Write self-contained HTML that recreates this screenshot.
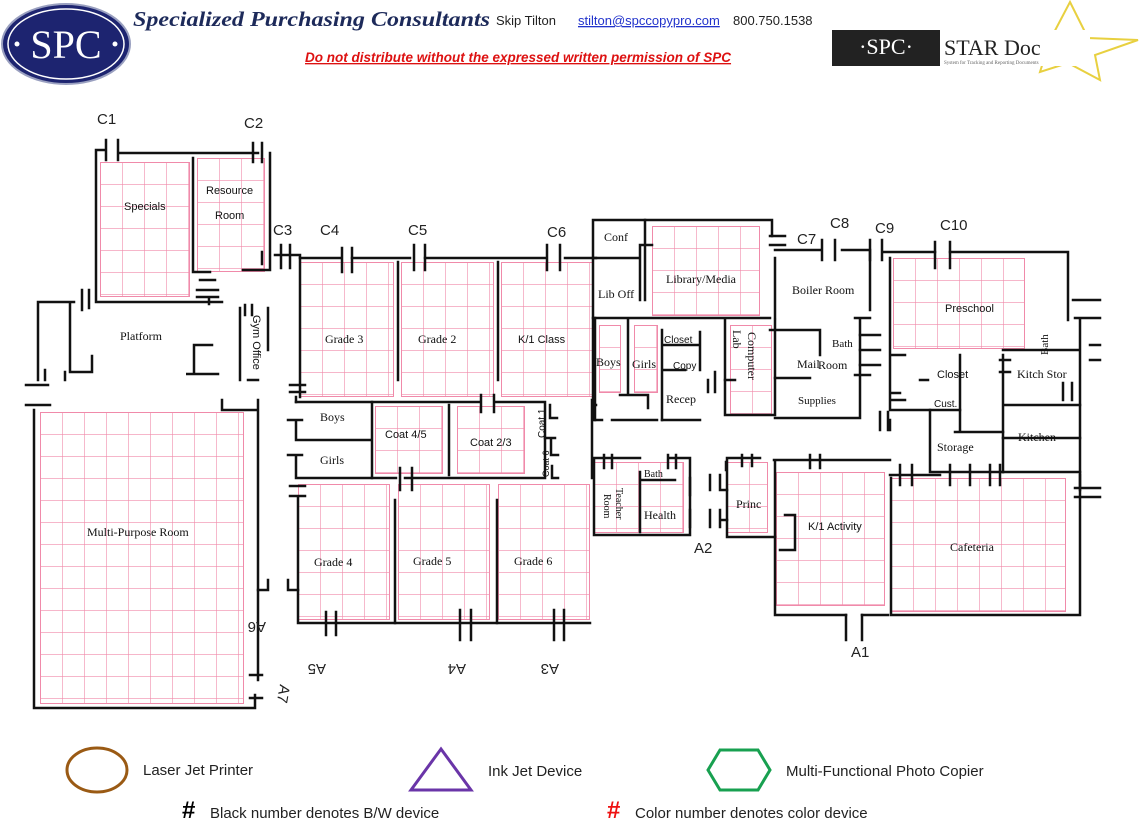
<!DOCTYPE html>
<html><head><meta charset="utf-8">
<style>
html,body{margin:0;padding:0;background:#fff;}
body{width:1140px;height:828px;overflow:hidden;position:relative;font-family:"Liberation Sans",sans-serif;}
svg{position:absolute;left:0;top:0;}
.s{font-family:"Liberation Serif",serif;font-size:12px;fill:#111;}
.h{font-family:"Liberation Sans",sans-serif;font-size:15px;fill:#222;}
</style></head><body>
<svg width="1140" height="828" viewBox="0 0 1140 828" xmlns="http://www.w3.org/2000/svg">
<defs>
<pattern id="g" width="22" height="22" patternUnits="userSpaceOnUse">
<path d="M0 0H22M0 0V22" stroke="#f08aaa" stroke-width="1.2" fill="none"/>
</pattern>
</defs>

<!-- HEADER -->
<ellipse cx="66" cy="44" rx="64" ry="40" fill="#1d2470" stroke="#9aa0c0" stroke-width="2"/>
<ellipse cx="66" cy="44" rx="58" ry="35" fill="none" stroke="#fff" stroke-width="1.5"/>
<text x="66" y="58" text-anchor="middle" font-family="Liberation Serif" font-size="40" fill="#fff">SPC</text>
<circle cx="17" cy="44" r="2.5" fill="#fff"/><circle cx="115" cy="44" r="2.5" fill="#fff"/>
<text x="133" y="26" font-family="Liberation Serif" font-style="italic" font-weight="bold" font-size="21" fill="#1d2a5a" textLength="357" lengthAdjust="spacingAndGlyphs">Specialized Purchasing Consultants</text>
<text x="496" y="25" font-size="13" fill="#222">Skip Tilton</text>
<text x="578" y="25" font-size="13" fill="#2233cc" text-decoration="underline">stilton@spccopypro.com</text>
<text x="733" y="25" font-size="13" fill="#222">800.750.1538</text>
<text x="305" y="62" font-size="13.5" font-weight="bold" font-style="italic" fill="#d11" text-decoration="underline">Do not distribute without the expressed written permission of SPC</text>
<polygon points="1070,2 1088,38 1138,40 1095,55 1100,80 1068,63 1040,72 1050,40" fill="none" stroke="#e8d040" stroke-width="2"/>
<rect x="832" y="30" width="108" height="36" fill="#222"/>
<text x="886" y="54" text-anchor="middle" font-family="Liberation Serif" font-size="22" fill="#fff">·SPC·</text>
<rect x="940" y="30" width="150" height="36" fill="#fff"/>
<text x="944" y="55" font-family="Liberation Serif" font-size="22" fill="#222">STAR Doc</text>
<text x="944" y="64" font-family="Liberation Serif" font-size="5" fill="#666">System for Tracking and Reporting Documents</text>

<!-- GRIDDED ROOMS -->
<g>
<svg x="100" y="162" width="90" height="135"><rect width="100%" height="100%" fill="url(#g)" stroke="#f08aaa" stroke-width="2"/></svg>
<svg x="197" y="158" width="68" height="114"><rect width="100%" height="100%" fill="url(#g)" stroke="#f08aaa" stroke-width="2"/></svg>
<svg x="40" y="412" width="204" height="292"><rect width="100%" height="100%" fill="url(#g)" stroke="#f08aaa" stroke-width="2"/></svg>
<svg x="300" y="262" width="94" height="135"><rect width="100%" height="100%" fill="url(#g)" stroke="#f08aaa" stroke-width="2"/></svg>
<svg x="401" y="262" width="93" height="135"><rect width="100%" height="100%" fill="url(#g)" stroke="#f08aaa" stroke-width="2"/></svg>
<svg x="501" y="262" width="92" height="135"><rect width="100%" height="100%" fill="url(#g)" stroke="#f08aaa" stroke-width="2"/></svg>
<svg x="375" y="406" width="68" height="68"><rect width="100%" height="100%" fill="url(#g)" stroke="#f08aaa" stroke-width="2"/></svg>
<svg x="457" y="406" width="68" height="68"><rect width="100%" height="100%" fill="url(#g)" stroke="#f08aaa" stroke-width="2"/></svg>
<svg x="298" y="484" width="92" height="136"><rect width="100%" height="100%" fill="url(#g)" stroke="#f08aaa" stroke-width="2"/></svg>
<svg x="398" y="484" width="92" height="136"><rect width="100%" height="100%" fill="url(#g)" stroke="#f08aaa" stroke-width="2"/></svg>
<svg x="498" y="484" width="92" height="136"><rect width="100%" height="100%" fill="url(#g)" stroke="#f08aaa" stroke-width="2"/></svg>
<svg x="652" y="226" width="108" height="90"><rect width="100%" height="100%" fill="url(#g)" stroke="#f08aaa" stroke-width="2"/></svg>
<svg x="599" y="325" width="22" height="68"><rect width="100%" height="100%" fill="url(#g)" stroke="#f08aaa" stroke-width="2"/></svg>
<svg x="634" y="325" width="24" height="68"><rect width="100%" height="100%" fill="url(#g)" stroke="#f08aaa" stroke-width="2"/></svg>
<svg x="730" y="325" width="42" height="90"><rect width="100%" height="100%" fill="url(#g)" stroke="#f08aaa" stroke-width="2"/></svg>
<svg x="893" y="258" width="132" height="91"><rect width="100%" height="100%" fill="url(#g)" stroke="#f08aaa" stroke-width="2"/></svg>
<svg x="891" y="478" width="175" height="134"><rect width="100%" height="100%" fill="url(#g)" stroke="#f08aaa" stroke-width="2"/></svg>
<svg x="776" y="472" width="109" height="134"><rect width="100%" height="100%" fill="url(#g)" stroke="#f08aaa" stroke-width="2"/></svg>
<svg x="727" y="462" width="41" height="71"><rect width="100%" height="100%" fill="url(#g)" stroke="#f08aaa" stroke-width="2"/></svg>
<svg x="594" y="462" width="90" height="71"><rect width="100%" height="100%" fill="url(#g)" stroke="#f08aaa" stroke-width="2"/></svg>
</g>

<!-- WALLS -->
<g stroke="#111" stroke-width="2.5" fill="none" stroke-linecap="square">
<path d="M104 150H96V302H222"/>
<path d="M120 153H258M270 153V270H243"/>
<path d="M193 158V272H210"/>
<path d="M106 140V160M118 140V160M253 143V162M262 143V162"/>
<path d="M200 280H215M197 290H218M197 297H218M209 297V304"/>
<path d="M82 290V310M89 290V308"/>
<path d="M74 302H38V380M70 303V372H92V356"/>
<path d="M45 370V380M65 372V380"/>
<path d="M26 385H48M26 405H50"/>
<path d="M194 345H212M194 345V374H186V374H218"/>
<path d="M240 308V380M268 308V350M248 380H258"/>
<path d="M245 305V315M252 305V315"/>
<path d="M34 410V708H255V695"/>
<path d="M222 400V410H258M258 400V680M250 675H262M250 698H262"/>
<path d="M258 590H268V580M288 580V590H298"/>
<path d="M275 255H300V397M262 252V264M281 245V268M290 245V268"/>
<path d="M300 258H340M352 258H410M425 258H545M565 258H596"/>
<path d="M342 248V272M352 248V272M414 245V270M425 245V270M547 245V270M560 245V270"/>
<path d="M398 262V380M498 262V380"/>
<path d="M290 385H305M290 392H305M296 397V402"/>
<path d="M296 402H372V478H296M296 440H372M288 420H302M296 420V440M288 455H302M296 455V478"/>
<path d="M372 402H480M495 402H545V478H480M496 478H405M396 478H372"/>
<path d="M481 395V412M494 395V412M400 468V490M412 468V490"/>
<path d="M449 405V475"/>
<path d="M545 438H555M550 405V418H557M551 438V455H558M552 466V478H558"/>
<path d="M290 486H305M290 496H305M298 496V623H590"/>
<path d="M395 500V623M497 500V623"/>
<path d="M326 612V635M336 612V635M460 610V640M471 610V640M554 610V640M564 610V640"/>
<path d="M592 478V400M592 405H596"/>
<path d="M593 220H772V236M593 220V420H602M612 420H657M662 420H700"/>
<path d="M593 258H640M593 318H770M645 220V300M640 245V300M640 245H652"/>
<path d="M770 236H785M770 245H785M775 258V318"/>
<path d="M595 318V420"/>
<path d="M628 320V395M620 395H648M648 395V408"/>
<path d="M662 330V420M662 345H700M662 370H685M700 332V360M700 345V370"/>
<path d="M708 380V392M715 372V392M725 380H735"/>
<path d="M725 320V415H775V320"/>
<path d="M775 250H820M842 250H870V310"/>
<path d="M822 240V260M835 240V260M870 240V260M882 240V260M882 252H935M950 252H1068V320"/>
<path d="M935 242V268M950 242V268"/>
<path d="M770 330H820V355M775 378H810M775 418H860V320"/>
<path d="M855 318H870M860 335H880M860 350H880M860 365H880M855 375H870"/>
<path d="M890 258V410H960V430M890 355H905M890 393H900M892 400H905M890 420V430"/>
<path d="M1003 350H1080M1080 320V490M1073 300H1100M1075 318H1100M1080 330V350M1090 345H1100M1090 360H1100"/>
<path d="M1003 355V438M960 355V410M1003 405H1080"/>
<path d="M1000 360H1010M1000 372H1010M920 380H928"/>
<path d="M1003 438H1080M1003 438V472"/>
<path d="M930 410V472H1003M955 432H1003"/>
<path d="M880 412V430M888 412V430"/>
<path d="M1063 383V400M1072 383V400"/>
<path d="M1075 488H1100M1075 497H1100"/>
<path d="M891 478V615H1080V475M890 475H940M1003 472H1080"/>
<path d="M900 465V485M912 465V485M950 465V485M970 465V485M990 465V485M1000 465V485"/>
<path d="M774 460H890M775 460V615H846M862 615H888"/>
<path d="M846 615V640M862 615V640"/>
<path d="M810 455V468M820 455V468"/>
<path d="M785 515H795V545M795 545V550H780"/>
<path d="M727 458H760M727 458V537H775M726 462V470"/>
<path d="M742 455V466M752 455V466"/>
<path d="M710 475V490M720 475V490M710 510V527M720 510V527M720 490H727M720 520H727"/>
<path d="M594 458H640M670 458H690V535H594V458"/>
<path d="M604 455V468M612 455V468M668 455V468M676 455V468"/>
<path d="M640 472V532M640 480H675"/>
<path d="M690 478V495M690 510V527"/>
</g>

<!-- LABELS -->
<g class="s">
<text x="124" y="210" font-family="Liberation Sans" font-size="11">Specials</text>
<text x="206" y="194" font-family="Liberation Sans" font-size="11">Resource</text>
<text x="215" y="219" font-family="Liberation Sans" font-size="11">Room</text>
<text x="120" y="340">Platform</text>
<text x="253" y="315" transform="rotate(90 253 315)" font-family="Liberation Sans" font-size="11">Gym Office</text>
<text x="87" y="536">Multi-Purpose Room</text>
<text x="325" y="343">Grade 3</text>
<text x="418" y="343">Grade 2</text>
<text x="518" y="343" font-family="Liberation Sans" font-size="11">K/1 Class</text>
<text x="320" y="421">Boys</text>
<text x="320" y="464">Girls</text>
<text x="385" y="438" font-family="Liberation Sans" font-size="11">Coat 4/5</text>
<text x="470" y="446" font-family="Liberation Sans" font-size="11">Coat 2/3</text>
<text x="545" y="438" transform="rotate(-90 545 438)" font-family="Liberation Sans" font-size="10">Coat 1</text>
<text x="549" y="477" transform="rotate(-90 549 477)" font-family="Liberation Sans" font-size="9">Coat 6</text>
<text x="314" y="566">Grade 4</text>
<text x="413" y="565">Grade 5</text>
<text x="514" y="565">Grade   6</text>
<text x="604" y="241">Conf</text>
<text x="598" y="298">Lib Off</text>
<text x="666" y="283">Library/Media</text>
<text x="596" y="366">Boys</text>
<text x="632" y="368">Girls</text>
<text x="664" y="343" font-family="Liberation Sans" font-size="10">Closet</text>
<text x="673" y="369" font-family="Liberation Sans" font-size="10">Copy</text>
<text x="666" y="403">Recep</text>
<text x="748" y="332" transform="rotate(90 748 332)">Computer</text>
<text x="733" y="330" transform="rotate(90 733 330)">Lab</text>
<text x="792" y="294">Boiler Room</text>
<text x="832" y="347" font-size="11">Bath</text>
<text x="797" y="368">Mail</text>
<text x="818" y="369">Room</text>
<text x="798" y="404" font-size="11">Supplies</text>
<text x="945" y="312" font-family="Liberation Sans" font-size="11">Preschool</text>
<text x="1048" y="355" transform="rotate(-90 1048 355)" font-size="11">Bath</text>
<text x="937" y="378" font-family="Liberation Sans" font-size="11">Closet</text>
<text x="934" y="407" font-family="Liberation Sans" font-size="10">Cust.</text>
<text x="1017" y="378">Kitch Stor</text>
<text x="937" y="451">Storage</text>
<text x="1018" y="441">Kitchen</text>
<text x="950" y="551">Cafeteria</text>
<text x="808" y="530" font-family="Liberation Sans" font-size="11">K/1 Activity</text>
<text x="736" y="508">Princ</text>
<text x="644" y="477" font-size="10">Bath</text>
<text x="644" y="519">Health</text>
<text x="616" y="488" transform="rotate(90 616 488)" font-size="10">Teacher</text>
<text x="604" y="494" transform="rotate(90 604 494)" font-size="10">Room</text>
</g>

<!-- DOOR LABELS -->
<g font-family="Liberation Sans" font-size="15" fill="#222">
<text x="97" y="124">C1</text>
<text x="244" y="128">C2</text>
<text x="273" y="235">C3</text>
<text x="320" y="235">C4</text>
<text x="408" y="235">C5</text>
<text x="547" y="237">C6</text>
<text x="797" y="244">C7</text>
<text x="830" y="228">C8</text>
<text x="875" y="233">C9</text>
<text x="940" y="230">C10</text>
<text x="851" y="657">A1</text>
<text x="694" y="553">A2</text>
<text x="575" y="654" transform="rotate(180 567 659)">A3</text>
<text x="482" y="654" transform="rotate(180 474 659)">A4</text>
<text x="342" y="654" transform="rotate(180 334 659)">A5</text>
<text x="282" y="612" transform="rotate(180 274 617)">A6</text>
<text x="280" y="684" transform="rotate(100 280 684)">A7</text>
</g>

<!-- LEGEND -->
<ellipse cx="97" cy="770" rx="30" ry="22" fill="none" stroke="#9a5a14" stroke-width="3"/>
<text x="143" y="775" class="h" font-size="17">Laser Jet Printer</text>
<polygon points="441,749 471,790 411,790" fill="none" stroke="#6a35a8" stroke-width="3"/>
<text x="488" y="776" class="h" font-size="17">Ink Jet Device</text>
<polygon points="720,750 758,750 770,770 758,790 720,790 708,770" fill="none" stroke="#18a050" stroke-width="3"/>
<text x="786" y="776" class="h" font-size="17">Multi-Functional Photo Copier</text>
<text x="182" y="818" font-size="24" font-weight="bold" fill="#000">#</text>
<text x="210" y="818" class="h" font-size="17">Black number denotes B/W device</text>
<text x="607" y="818" font-size="24" font-weight="bold" fill="#e11">#</text>
<text x="635" y="818" class="h" font-size="17">Color number denotes color device</text>
</svg>
</body></html>
